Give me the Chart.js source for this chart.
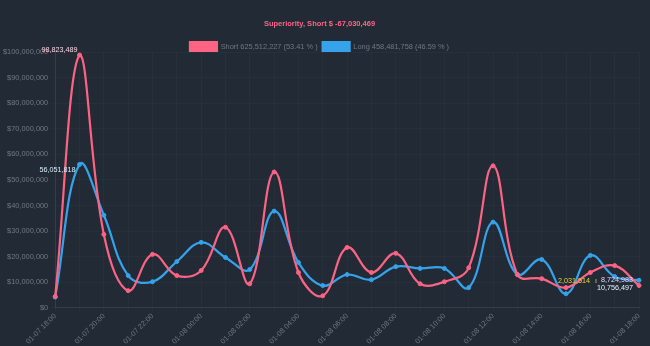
<!DOCTYPE html>
<html>
<head>
<meta charset="utf-8">
<script src="https://cdn.jsdelivr.net/npm/chart.js@4"></script>
<style>
  body { margin: 0; background: #222b35; }
  #wrap { width: 650px; height: 346px; }
</style>
</head>
<body>
<div id="wrap"><canvas id="chart" width="650" height="346"></canvas></div>
<script>
// hourly categories
const hours = ['01-07 18:00', '01-07 19:00', '01-07 20:00', '01-07 21:00', '01-07 22:00', '01-07 23:00',
  '01-08 00:00', '01-08 01:00', '01-08 02:00', '01-08 03:00', '01-08 04:00', '01-08 05:00',
  '01-08 06:00', '01-08 07:00', '01-08 08:00', '01-08 09:00', '01-08 10:00', '01-08 11:00',
  '01-08 12:00', '01-08 13:00', '01-08 14:00', '01-08 15:00', '01-08 16:00', '01-08 17:00', '01-08 18:00'];

// values
const shortValues = [4400000, 98823489, 28700000, 6700000, 20900000, 12600000, 14600000, 31500000,
  9400000, 53100000, 13800000, 4700000, 23600000, 13800000, 21300000, 9400000, 10200000, 15700000,
  55500000, 13000000, 11400000, 7900000, 13800000, 16500000, 8724983];
const longValues = [4200000, 56051818, 36200000, 12600000, 10200000, 18100000, 25600000, 19700000,
  15000000, 37800000, 17700000, 8700000, 13000000, 11000000, 16100000, 15400000, 15400000, 7900000,
  33500000, 13000000, 18900000, 5500000, 20500000, 12200000, 10756497];

const titleText = 'Superiority, Short $ -67,030,469';
const legendTexts = ['Short 625,512,227 (53.41 % )', 'Long 458,481,758 (46.59 % )'];

const pink = 'rgb(255, 99, 132)';
const blue = 'rgb(54, 162, 235)';
const fontFamily = '"Liberation Sans", Arial, sans-serif';

function fmt(v) {
    return Math.round(v).toLocaleString('en-US');
}

// draws the peak and last values next to the points
const valueLabels = {
    id: 'valueLabels',
    afterDatasetsDraw(chart) {
        const ctx = chart.ctx;
        const pinkMeta = chart.getDatasetMeta(0).data;
        const blueMeta = chart.getDatasetMeta(1).data;
        const last = shortValues.length - 1;
        const pinkMax = shortValues.indexOf(Math.max(...shortValues));
        const blueMax = longValues.indexOf(Math.max(...longValues));

        ctx.save();
        ctx.font = '7.2px ' + fontFamily;
        ctx.textBaseline = 'middle';
        ctx.textAlign = 'right';

        ctx.fillStyle = '#ffd3de';
        ctx.fillText(fmt(shortValues[pinkMax]), pinkMeta[pinkMax].x - 2, pinkMeta[pinkMax].y - 5);
        ctx.fillStyle = '#d4ecff';
        ctx.fillText(fmt(longValues[blueMax]), blueMeta[blueMax].x - 4, blueMeta[blueMax].y + 6);

        // last values
        ctx.fillStyle = '#e6d6ff';
        ctx.fillText(fmt(shortValues[last]), pinkMeta[last].x - 6, pinkMeta[last].y - 5);
        ctx.fillStyle = '#e8f2ff';
        ctx.fillText(fmt(longValues[last]), blueMeta[last].x - 6, blueMeta[last].y + 8);

        // difference between the two at the end
        ctx.fillStyle = '#e8d63c';
        ctx.fillText(fmt(longValues[last] - shortValues[last]), pinkMeta[last].x - 49, pinkMeta[last].y - 4);
        ctx.fillText('ı', pinkMeta[last].x - 42, pinkMeta[last].y - 4);
        ctx.restore();
    }
};

const chart = new Chart(document.getElementById('chart').getContext('2d'), {
    type: 'line',
    data: {
        labels: hours,
        datasets: [{
            label: legendTexts[0],
            data: shortValues,
            borderColor: pink,
            backgroundColor: pink,
            pointBackgroundColor: pink,
            borderWidth: 2.2,
            pointRadius: 2,
            pointBorderWidth: 1,
            tension: 0.4
        }, {
            label: legendTexts[1],
            data: longValues,
            borderColor: blue,
            backgroundColor: blue,
            pointBackgroundColor: blue,
            borderWidth: 2.2,
            pointRadius: 2,
            pointBorderWidth: 1,
            tension: 0.4
        }]
    },
    options: {
        responsive: false,
        animation: false,
        layout: {
            padding: { left: 0, right: 11, top: 0, bottom: 0 }
        },
        plugins: {
            title: {
                display: true,
                text: titleText,
                color: pink,
                font: { family: fontFamily, size: 7.5, weight: 'bold' },
                padding: { top: 19, bottom: 9 }
            },
            legend: {
                maxHeight: 15,
                labels: {
                    color: '#6f7780',
                    boxWidth: 27,
                    boxHeight: 9,
                    padding: 5,
                    font: { family: fontFamily, size: 7.4 }
                }
            },
            tooltip: { enabled: false }
        },
        scales: {
            x: {
                grid: { color: 'rgba(255,255,255,0.025)', tickLength: 4 },
                border: { color: 'rgba(255,255,255,0.07)' },
                ticks: {
                    autoSkip: false,
                    maxRotation: 45,
                    minRotation: 45,
                    padding: 0,
                    color: '#6f7780',
                    font: { family: fontFamily, size: 7.4 },
                    callback: function(value, index) {
                        return index % 2 === 0 ? hours[index] : '';
                    }
                }
            },
            y: {
                min: 0,
                max: 100000000,
                grid: { color: 'rgba(255,255,255,0.025)', tickLength: 4 },
                border: { color: 'rgba(255,255,255,0.07)' },
                ticks: {
                    stepSize: 10000000,
                    color: '#6f7780',
                    font: { family: fontFamily, size: 7.4 },
                    callback: function(value) {
                        return '$' + value.toLocaleString('en-US');
                    }
                }
            }
        }
    },
    plugins: [valueLabels]
});
</script>
</body>
</html>
